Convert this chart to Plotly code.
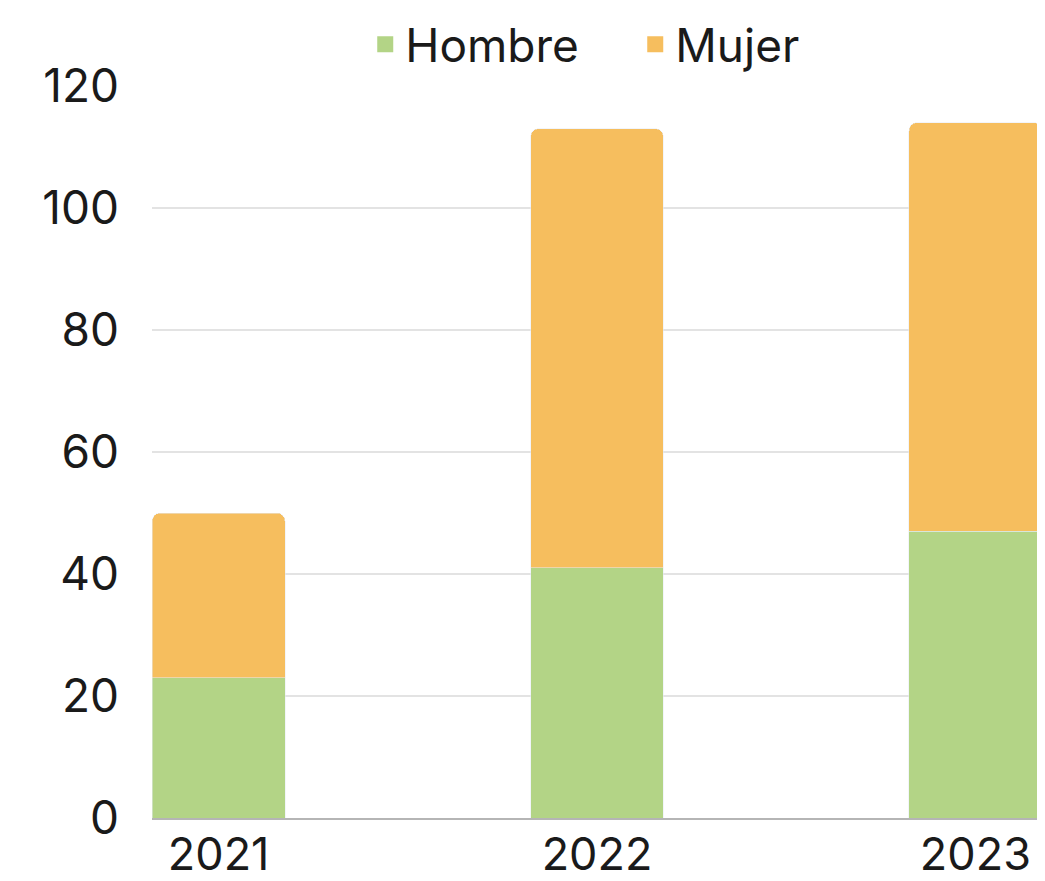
import plotly.graph_objects as go

years = ["2021", "2022", "2023"]
hombre = [23, 41, 47]
mujer = [27, 72, 67]

green = "#B3D486"
orange = "#F6BE5E"
font_family = "Inter, Roboto, sans-serif"
text_color = "#1a1a1a"

fig = go.Figure()
fig.add_trace(go.Bar(x=years, y=hombre, name="Hombre", marker_color=green,
                     width=0.351, showlegend=False))
fig.add_trace(go.Bar(x=years, y=mujer, name="Mujer", marker_color=orange,
                     width=0.351, showlegend=False))
# legend proxies
fig.add_trace(go.Scatter(x=[None], y=[None], mode="markers", name="Hombre",
                         marker=dict(symbol="square", size=17, color=green)))
fig.add_trace(go.Scatter(x=[None], y=[None], mode="markers", name="Mujer",
                         marker=dict(symbol="square", size=17, color=orange)))

fig.update_layout(
    width=1037, height=873,
    barmode="stack",
    barcornerradius=8,
    plot_bgcolor="white", paper_bgcolor="white",
    margin=dict(l=144, r=3, t=78, b=63, autoexpand=False),
    font=dict(family=font_family, size=46, color=text_color),
    legend=dict(orientation="h", x=0.2396, xanchor="left", y=1.1066, yanchor="top",
                traceorder="normal", entrywidth=225, entrywidthmode="pixels",
                font=dict(size=46, color=text_color), itemwidth=30,
                borderwidth=0, tracegroupgap=0, bgcolor="rgba(0,0,0,0)"),
    xaxis=dict(type="category", range=[-0.176, 2.176], showgrid=False,
               showline=True, linecolor="#b5b5b5", linewidth=2, automargin=False,
               ticks="", tickfont=dict(size=45), ticklabelstandoff=-4),
    yaxis=dict(range=[0, 120], dtick=20, showgrid=True, gridcolor="#e3e3e3",
               gridwidth=2, zeroline=False, showline=False, ticks="", automargin=False,
               tickfont=dict(size=46), ticklabelstandoff=32),
)

fig.write_html("out.html")
